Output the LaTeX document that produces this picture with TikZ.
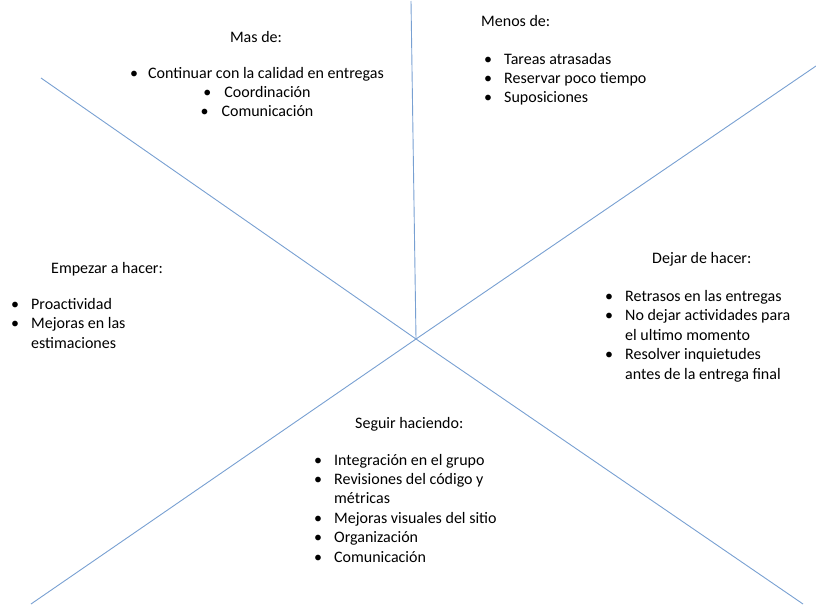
\documentclass[tikz,border=0pt]{standalone}
\usepackage{fontspec}
\setmainfont{Carlito}
\usepackage{xcolor}
\definecolor{LineBlue}{RGB}{120, 160, 210}
\usepackage{tikz}
\usetikzlibrary{positioning}

\newcommand{\blt}{\makebox[20pt][l]{\textbullet}}
\newcommand{\gap}{\hspace*{20pt}}

\begin{document}
\begin{tikzpicture}[
        x=1pt, y=-1pt,
        ray/.style={draw=LineBlue, line width=0.9pt},
        title/.style={inner sep=0pt, font=\fontsize{16}{19.4}\selectfont},
        items/.style={inner sep=0pt, align=left, anchor=base west, font=\fontsize{16}{19.4}\selectfont}
    ]
        \useasboundingbox (0,0) rectangle (816,607);

        % the six rays from the middle
        \coordinate (mid) at (416,339);
        \coordinate (top) at (411,1);
        \coordinate (ul) at (41,78);
        \coordinate (ur) at (816,66);
        \coordinate (ll) at (31,604);
        \coordinate (lr) at (803,604);
        \draw[ray] (mid) -- (top);
        \draw[ray] (mid) -- (ul);
        \draw[ray] (mid) -- (ur);
        \draw[ray] (mid) -- (ll);
        \draw[ray] (mid) -- (lr);

        % upper left (anchors sit on the last line)
        \node[title, anchor=base] (mas) at (256,43) {Mas de:};
        \node[items, align=center, anchor=base] (masl) at (257,117) {\makebox[18pt][l]{\textbullet}Continuar con la calidad en entregas\\
            \makebox[21pt][l]{\textbullet}Coordinación\\
            \makebox[21pt][l]{\textbullet}Comunicación};

        % upper right
        \node[title, anchor=base west] (menos) at (481,27) {Menos de:};
        \node[items] (menosl) at (484,103) {\blt Tareas atrasadas\\
            \blt Reservar poco tiempo\\
            \blt Suposiciones};

        % left
        \node[title, anchor=base west] (empezar) at (51,273) {Empezar a hacer:};
        \node[items] (empezarl) at (11,348) {\blt Proactividad\\
            \blt Mejoras en las\\
            \gap estimaciones};

        % right
        \node[title, anchor=base west] (dejar) at (652,263) {Dejar de hacer:};
        \node[items] (dejarl) at (605,379) {\blt Retrasos en las entregas\\
            \blt No dejar actividades para\\
            \gap el ultimo momento\\
            \blt Resolver inquietudes\\
            \gap antes de la entrega final};

        % bottom
        \node[title, anchor=base west] (seguir) at (355,428) {Seguir haciendo:};
        \node[items] (seguirl) at (314,562) {\blt Integración en el grupo\\
            \blt Revisiones del código y\\
            \gap métricas\\
            \blt Mejoras visuales del sitio\\
            \blt Organización\\
            \blt Comunicación};
    \end{tikzpicture}
\end{document}
